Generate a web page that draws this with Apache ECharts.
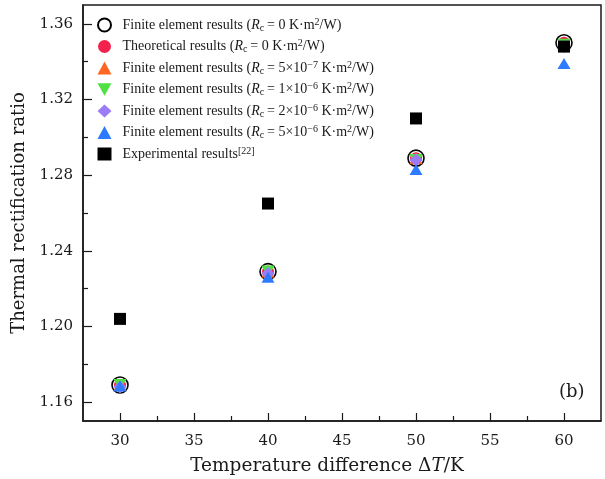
<!DOCTYPE html>
<html>
<head>
<meta charset="utf-8">
<script src="https://cdn.jsdelivr.net/npm/echarts@6/dist/echarts.min.js"></script>
<style>
  html, body { margin: 0; padding: 0; background: #fff; }
  #chart { width: 605px; height: 479px; }
</style>
</head>
<body>
<div id="chart"></div>
<script>
// Temperature difference (K)
const deltaT = [30, 40, 50, 60];

// Thermal rectification ratio for each model
const feR0      = [1.169, 1.229, 1.289, 1.350];
const theoryR0  = [1.169, 1.229, 1.289, 1.350];
const fe5e7     = [1.169, 1.229, 1.289, 1.349];
const fe1e6     = [1.169, 1.229, 1.288, 1.349];
const fe2e6     = [1.168, 1.228, 1.288, 1.348];
const fe5e6     = [1.1685, 1.226, 1.283, 1.339];
const experiment = [1.204, 1.265, 1.310, 1.348];

// Axis ticks
const xTicks = [30, 35, 40, 45, 50, 55, 60];
const xMinorTicks = [32.5, 37.5, 42.5, 47.5, 52.5, 57.5];
const yTicks = [1.16, 1.20, 1.24, 1.28, 1.32, 1.36];
const yMinorTicks = [1.18, 1.22, 1.26, 1.30, 1.34];

// Legend entries (rich-text markup for subscripts / superscripts)
const seriesNames = [
  'FE Rc=0', 'Theory Rc=0', 'FE Rc=5e-7', 'FE Rc=1e-6', 'FE Rc=2e-6', 'FE Rc=5e-6', 'Experiment'
];
const legendLabels = [
  'Finite element results ({it|R}{sub|c}{n|\u2009= 0 K\u00b7m}{sup|2}{n|/W)}',
  'Theoretical results ({it|R}{sub|c}{n|\u2009= 0 K\u00b7m}{sup|2}{n|/W)}',
  'Finite element results ({it|R}{sub|c}{n|\u2009= 5\u00d710}{sup|\u22127}{n| K\u00b7m}{sup|2}{n|/W)}',
  'Finite element results ({it|R}{sub|c}{n|\u2009= 1\u00d710}{sup|\u22126}{n| K\u00b7m}{sup|2}{n|/W)}',
  'Finite element results ({it|R}{sub|c}{n|\u2009= 2\u00d710}{sup|\u22126}{n| K\u00b7m}{sup|2}{n|/W)}',
  'Finite element results ({it|R}{sub|c}{n|\u2009= 5\u00d710}{sup|\u22126}{n| K\u00b7m}{sup|2}{n|/W)}',
  'Experimental results{sup|[22]}'
];

const serif = 'Liberation Serif';
const axisFont = 'DejaVu Serif';
const ink = '#1a1a1a';
const pair = (ys) => deltaT.map((x, i) => [x, ys[i]]);

const chart = echarts.init(document.getElementById('chart'));

const markerSeries = (name, ys, symbol, size, itemStyle) => ({
  type: 'scatter',
  name: name,
  data: pair(ys),
  symbol: symbol,
  symbolSize: size,
  itemStyle: Object.assign({ opacity: 1 }, itemStyle),
  xAxisIndex: 0,
  yAxisIndex: 0,
  emphasis: { disabled: true }
});

chart.setOption({
  animation: false,
  backgroundColor: '#fff',
  grid: {
    left: 83, right: 4, top: 5, bottom: 58,
    outerBoundsMode: 'none', containLabel: false,
    show: true, borderColor: ink, borderWidth: 1.5, backgroundColor: 'transparent'
  },
  legend: {
    orient: 'vertical',
    left: 92, top: 12,
    itemWidth: 14, itemHeight: 13, itemGap: 5.5,
    data: seriesNames,
    formatter: (name) => legendLabels[seriesNames.indexOf(name)],
    textStyle: {
      fontFamily: serif, fontSize: 14, color: ink, lineHeight: 16, padding: [0, 0, 0, 6],
      rich: {
        n:   { fontFamily: serif, fontSize: 14, color: ink, lineHeight: 16 },
        it:  { fontFamily: serif, fontSize: 14, color: ink, fontStyle: 'italic', lineHeight: 16 },
        sub: { fontFamily: serif, fontSize: 10, color: ink, lineHeight: 10, verticalAlign: 'bottom' },
        sup: { fontFamily: serif, fontSize: 10, color: ink, lineHeight: 10, verticalAlign: 'top' }
      }
    }
  },
  xAxis: [{
    type: 'value', min: 27.5, max: 62.5, position: 'bottom',
    name: 'Temperature difference \u0394{it|T}/K',
    nameLocation: 'middle', nameGap: 36,
    nameTextStyle: {
      fontFamily: axisFont, fontSize: 18.5, color: ink, padding: [0, 30, 0, 0],
      rich: { it: { fontFamily: axisFont, fontSize: 18.5, color: ink, fontStyle: 'italic' } }
    },
    axisLine: { show: true, lineStyle: { color: ink, width: 1.5 } },
    axisTick: { show: true, inside: true, length: 8, customValues: xTicks, lineStyle: { color: ink, width: 1.2 } },
    axisLabel: { customValues: xTicks, margin: 13, fontFamily: axisFont, fontSize: 15, color: ink },
    splitLine: { show: false }
  }, {
    type: 'value', min: 27.5, max: 62.5, position: 'bottom', gridIndex: 0,
    axisLine: { show: false },
    axisTick: { show: true, inside: true, length: 5, customValues: xMinorTicks, lineStyle: { color: ink, width: 1.2 } },
    axisLabel: { show: false },
    splitLine: { show: false }
  }],
  yAxis: [{
    type: 'value', min: 1.15, max: 1.37, position: 'left',
    name: 'Thermal rectification ratio',
    nameLocation: 'middle', nameGap: 47,
    nameTextStyle: { fontFamily: axisFont, fontSize: 18, color: ink },
    axisLine: { show: true, lineStyle: { color: ink, width: 1.5 } },
    axisTick: { show: true, inside: true, length: 9, customValues: yTicks, lineStyle: { color: ink, width: 1.2 } },
    axisLabel: {
      customValues: yTicks, margin: 10, fontFamily: axisFont, fontSize: 15, color: ink,
      formatter: (v) => v.toFixed(2)
    },
    splitLine: { show: false }
  }, {
    type: 'value', min: 1.15, max: 1.37, position: 'left', gridIndex: 0,
    axisLine: { show: false },
    axisTick: { show: true, inside: true, length: 5, customValues: yMinorTicks, lineStyle: { color: ink, width: 1.2 } },
    axisLabel: { show: false },
    splitLine: { show: false }
  }],
  graphic: [{
    type: 'text', left: 559, top: 383,
    style: { text: '(b)', font: '18px "DejaVu Serif"', fill: ink }
  }],
  series: [
    markerSeries(seriesNames[0], feR0, 'circle', 16, { color: 'rgba(255,255,255,0)', borderColor: '#000', borderWidth: 1.6 }),
    markerSeries(seriesNames[1], theoryR0, 'circle', 12, { color: '#f2224d' }),
    markerSeries(seriesNames[2], fe5e7, 'triangle', [13, 12], { color: '#ff6622' }),
    markerSeries(seriesNames[3], fe1e6, 'path://M0,0L2,0L1,1.8Z', [13, 12], { color: '#4fe043' }),
    markerSeries(seriesNames[4], fe2e6, 'diamond', 13, { color: '#9b7cf6' }),
    markerSeries(seriesNames[5], fe5e6, 'triangle', [13, 11], { color: '#2e7bff' }),
    markerSeries(seriesNames[6], experiment, 'rect', 12, { color: '#000' })
  ]
});
</script>
</body>
</html>
